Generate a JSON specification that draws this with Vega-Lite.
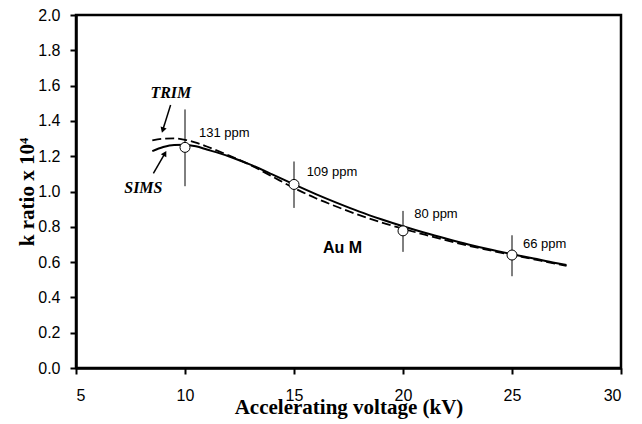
{
  "$schema": "https://vega.github.io/schema/vega-lite/v6.json",
  "width": 545,
  "height": 353,
  "autosize": {"type": "none"},
  "padding": {"left": 76, "top": 15, "right": 21, "bottom": 56},
  "background": "white",
  "config": {
    "view": {"stroke": "black", "strokeWidth": 2.5},
    "axis": {
      "grid": false,
      "domainColor": "black",
      "domainWidth": 2.5,
      "tickColor": "black",
      "tickWidth": 2,
      "tickSize": 6,
      "labelFont": "Liberation Sans",
      "labelFontSize": 16,
      "labelColor": "black",
      "labelOverlap": false,
      "titleFont": "Liberation Serif",
      "titleFontWeight": "bold",
      "titleColor": "black"
    }
  },
  "datasets": {
    "sims": [
      {"kv": 8.5, "k": 1.229}, {"kv": 9, "k": 1.252}, {"kv": 9.5, "k": 1.264}, {"kv": 10, "k": 1.265},
      {"kv": 10.5, "k": 1.256}, {"kv": 11, "k": 1.238}, {"kv": 12, "k": 1.2}, {"kv": 13, "k": 1.152},
      {"kv": 14, "k": 1.097}, {"kv": 15, "k": 1.04}, {"kv": 16, "k": 0.985}, {"kv": 17, "k": 0.934},
      {"kv": 18, "k": 0.886}, {"kv": 19, "k": 0.843}, {"kv": 20, "k": 0.803}, {"kv": 21, "k": 0.766},
      {"kv": 22, "k": 0.732}, {"kv": 23, "k": 0.7}, {"kv": 24, "k": 0.671}, {"kv": 25, "k": 0.645},
      {"kv": 26, "k": 0.62}, {"kv": 27, "k": 0.595}, {"kv": 27.5, "k": 0.584}
    ],
    "trim": [
      {"kv": 8.5, "k": 1.29}, {"kv": 9, "k": 1.299}, {"kv": 9.5, "k": 1.301}, {"kv": 10, "k": 1.293},
      {"kv": 10.5, "k": 1.277}, {"kv": 11, "k": 1.255}, {"kv": 12, "k": 1.205}, {"kv": 13, "k": 1.15},
      {"kv": 14, "k": 1.085}, {"kv": 15, "k": 1.02}, {"kv": 16, "k": 0.962}, {"kv": 17, "k": 0.912},
      {"kv": 18, "k": 0.866}, {"kv": 19, "k": 0.825}, {"kv": 20, "k": 0.789}, {"kv": 21, "k": 0.755},
      {"kv": 22, "k": 0.723}, {"kv": 23, "k": 0.693}, {"kv": 24, "k": 0.666}, {"kv": 25, "k": 0.641},
      {"kv": 26, "k": 0.616}, {"kv": 27, "k": 0.591}, {"kv": 27.5, "k": 0.579}
    ],
    "meas": [
      {"kv": 10, "k": 1.25, "lo": 1.03, "hi": 1.465, "label": "131 ppm", "lx": 10.64, "ly": 1.331},
      {"kv": 15, "k": 1.04, "lo": 0.907, "hi": 1.17, "label": "109 ppm", "lx": 15.58, "ly": 1.108},
      {"kv": 20, "k": 0.777, "lo": 0.658, "hi": 0.89, "label": "80 ppm", "lx": 20.52, "ly": 0.874},
      {"kv": 25, "k": 0.64, "lo": 0.52, "hi": 0.752, "label": "66 ppm", "lx": 25.5, "ly": 0.705}
    ],
    "arrows": [
      {"name": "TRIM", "x1": 9.34, "y1": 1.49, "x2": 8.98, "y2": 1.348, "tx": 9.35, "ty": 1.558},
      {"name": "SIMS", "x1": 8.55, "y1": 1.103, "x2": 9.08, "y2": 1.216, "tx": 8.09, "ty": 1.018}
    ]
  },
  "layer": [
    {
      "data": {"name": "trim"},
      "mark": {"type": "line", "color": "black", "strokeWidth": 1.8, "strokeDash": [9, 4], "interpolate": "monotone"},
      "encoding": {
        "x": {"field": "kv", "type": "quantitative", "scale": {"domain": [5, 30], "nice": false},
              "axis": {"values": [5, 10, 15, 20, 25, 30], "title": "Accelerating voltage (kV)", "titleFontSize": 21, "labelPadding": 13, "titlePadding": -7}},
        "y": {"field": "k", "type": "quantitative", "scale": {"domain": [0, 2], "nice": false},
              "axis": {"values": [0, 0.2, 0.4, 0.6, 0.8, 1.0, 1.2, 1.4, 1.6, 1.8, 2.0], "labelOverlap": false, "format": ".1f", "title": "k ratio x 10⁴", "titleFontSize": 21, "labelPadding": 10, "titlePadding": 0}}
      }
    },
    {
      "data": {"name": "sims"},
      "mark": {"type": "line", "color": "black", "strokeWidth": 2, "interpolate": "monotone"},
      "encoding": {
        "x": {"field": "kv", "type": "quantitative", "scale": {"domain": [5, 30], "nice": false},
              "axis": {"values": [5, 10, 15, 20, 25, 30], "title": "Accelerating voltage (kV)", "titleFontSize": 21, "labelPadding": 13, "titlePadding": -7}},
        "y": {"field": "k", "type": "quantitative", "scale": {"domain": [0, 2], "nice": false},
              "axis": {"values": [0, 0.2, 0.4, 0.6, 0.8, 1.0, 1.2, 1.4, 1.6, 1.8, 2.0], "labelOverlap": false, "format": ".1f", "title": "k ratio x 10⁴", "titleFontSize": 21, "labelPadding": 10, "titlePadding": 0}}
      }
    },
    {
      "data": {"name": "meas"},
      "mark": {"type": "rule", "color": "black", "strokeWidth": 1},
      "encoding": {
        "x": {"field": "kv", "type": "quantitative", "scale": {"domain": [5, 30], "nice": false},
              "axis": {"values": [5, 10, 15, 20, 25, 30], "title": "Accelerating voltage (kV)", "titleFontSize": 21, "labelPadding": 13, "titlePadding": -7}},
        "y": {"field": "lo", "type": "quantitative", "scale": {"domain": [0, 2], "nice": false},
              "axis": {"values": [0, 0.2, 0.4, 0.6, 0.8, 1.0, 1.2, 1.4, 1.6, 1.8, 2.0], "labelOverlap": false, "format": ".1f", "title": "k ratio x 10⁴", "titleFontSize": 21, "labelPadding": 10, "titlePadding": 0}},
        "y2": {"field": "hi"}
      }
    },
    {
      "data": {"name": "meas"},
      "mark": {"type": "point", "shape": "circle", "filled": true, "fill": "white", "stroke": "black", "strokeWidth": 1, "size": 100, "opacity": 1},
      "encoding": {
        "x": {"field": "kv", "type": "quantitative", "scale": {"domain": [5, 30], "nice": false},
              "axis": {"values": [5, 10, 15, 20, 25, 30], "title": "Accelerating voltage (kV)", "titleFontSize": 21, "labelPadding": 13, "titlePadding": -7}},
        "y": {"field": "k", "type": "quantitative", "scale": {"domain": [0, 2], "nice": false},
              "axis": {"values": [0, 0.2, 0.4, 0.6, 0.8, 1.0, 1.2, 1.4, 1.6, 1.8, 2.0], "labelOverlap": false, "format": ".1f", "title": "k ratio x 10⁴", "titleFontSize": 21, "labelPadding": 10, "titlePadding": 0}}
      }
    },
    {
      "data": {"name": "meas"},
      "mark": {"type": "text", "font": "Liberation Sans", "fontSize": 13, "align": "left", "baseline": "middle", "color": "black"},
      "encoding": {
        "x": {"field": "lx", "type": "quantitative", "scale": {"domain": [5, 30], "nice": false},
              "axis": {"values": [5, 10, 15, 20, 25, 30], "title": "Accelerating voltage (kV)", "titleFontSize": 21, "labelPadding": 13, "titlePadding": -7}},
        "y": {"field": "ly", "type": "quantitative", "scale": {"domain": [0, 2], "nice": false},
              "axis": {"values": [0, 0.2, 0.4, 0.6, 0.8, 1.0, 1.2, 1.4, 1.6, 1.8, 2.0], "labelOverlap": false, "format": ".1f", "title": "k ratio x 10⁴", "titleFontSize": 21, "labelPadding": 10, "titlePadding": 0}},
        "text": {"field": "label"}
      }
    },
    {
      "data": {"values": [{"kv": 16.33, "k": 0.68, "t": "Au M"}]},
      "mark": {"type": "text", "font": "Liberation Sans", "fontSize": 16, "fontWeight": "bold", "align": "left", "baseline": "middle", "color": "black"},
      "encoding": {
        "x": {"field": "kv", "type": "quantitative", "scale": {"domain": [5, 30], "nice": false},
              "axis": {"values": [5, 10, 15, 20, 25, 30], "title": "Accelerating voltage (kV)", "titleFontSize": 21, "labelPadding": 13, "titlePadding": -7}},
        "y": {"field": "k", "type": "quantitative", "scale": {"domain": [0, 2], "nice": false},
              "axis": {"values": [0, 0.2, 0.4, 0.6, 0.8, 1.0, 1.2, 1.4, 1.6, 1.8, 2.0], "labelOverlap": false, "format": ".1f", "title": "k ratio x 10⁴", "titleFontSize": 21, "labelPadding": 10, "titlePadding": 0}},
        "text": {"field": "t"}
      }
    },
    {
      "data": {"name": "arrows"},
      "mark": {"type": "rule", "color": "black", "strokeWidth": 1.5},
      "encoding": {
        "x": {"field": "x1", "type": "quantitative", "scale": {"domain": [5, 30], "nice": false},
              "axis": {"values": [5, 10, 15, 20, 25, 30], "title": "Accelerating voltage (kV)", "titleFontSize": 21, "labelPadding": 13, "titlePadding": -7}},
        "y": {"field": "y1", "type": "quantitative", "scale": {"domain": [0, 2], "nice": false},
              "axis": {"values": [0, 0.2, 0.4, 0.6, 0.8, 1.0, 1.2, 1.4, 1.6, 1.8, 2.0], "labelOverlap": false, "format": ".1f", "title": "k ratio x 10⁴", "titleFontSize": 21, "labelPadding": 10, "titlePadding": 0}},
        "x2": {"field": "x2"},
        "y2": {"field": "y2"}
      }
    },
    {
      "data": {"name": "arrows"},
      "transform": [{"filter": "datum.name === 'TRIM'"}],
      "mark": {"type": "point", "shape": "triangle-up", "filled": true, "color": "black", "size": 40, "opacity": 1, "angle": 198},
      "encoding": {
        "x": {"field": "x2", "type": "quantitative", "scale": {"domain": [5, 30], "nice": false},
              "axis": {"values": [5, 10, 15, 20, 25, 30], "title": "Accelerating voltage (kV)", "titleFontSize": 21, "labelPadding": 13, "titlePadding": -7}},
        "y": {"field": "y2", "type": "quantitative", "scale": {"domain": [0, 2], "nice": false},
              "axis": {"values": [0, 0.2, 0.4, 0.6, 0.8, 1.0, 1.2, 1.4, 1.6, 1.8, 2.0], "labelOverlap": false, "format": ".1f", "title": "k ratio x 10⁴", "titleFontSize": 21, "labelPadding": 10, "titlePadding": 0}}
      }
    },
    {
      "data": {"name": "arrows"},
      "transform": [{"filter": "datum.name === 'SIMS'"}],
      "mark": {"type": "point", "shape": "triangle-up", "filled": true, "color": "black", "size": 40, "opacity": 1, "angle": 30},
      "encoding": {
        "x": {"field": "x2", "type": "quantitative", "scale": {"domain": [5, 30], "nice": false},
              "axis": {"values": [5, 10, 15, 20, 25, 30], "title": "Accelerating voltage (kV)", "titleFontSize": 21, "labelPadding": 13, "titlePadding": -7}},
        "y": {"field": "y2", "type": "quantitative", "scale": {"domain": [0, 2], "nice": false},
              "axis": {"values": [0, 0.2, 0.4, 0.6, 0.8, 1.0, 1.2, 1.4, 1.6, 1.8, 2.0], "labelOverlap": false, "format": ".1f", "title": "k ratio x 10⁴", "titleFontSize": 21, "labelPadding": 10, "titlePadding": 0}}
      }
    },
    {
      "data": {"name": "arrows"},
      "mark": {"type": "text", "font": "Liberation Serif", "fontSize": 16, "fontWeight": "bold", "fontStyle": "italic", "align": "center", "baseline": "middle", "color": "black"},
      "encoding": {
        "x": {"field": "tx", "type": "quantitative", "scale": {"domain": [5, 30], "nice": false},
              "axis": {"values": [5, 10, 15, 20, 25, 30], "title": "Accelerating voltage (kV)", "titleFontSize": 21, "labelPadding": 13, "titlePadding": -7}},
        "y": {"field": "ty", "type": "quantitative", "scale": {"domain": [0, 2], "nice": false},
              "axis": {"values": [0, 0.2, 0.4, 0.6, 0.8, 1.0, 1.2, 1.4, 1.6, 1.8, 2.0], "labelOverlap": false, "format": ".1f", "title": "k ratio x 10⁴", "titleFontSize": 21, "labelPadding": 10, "titlePadding": 0}},
        "text": {"field": "name"}
      }
    }
  ]
}
